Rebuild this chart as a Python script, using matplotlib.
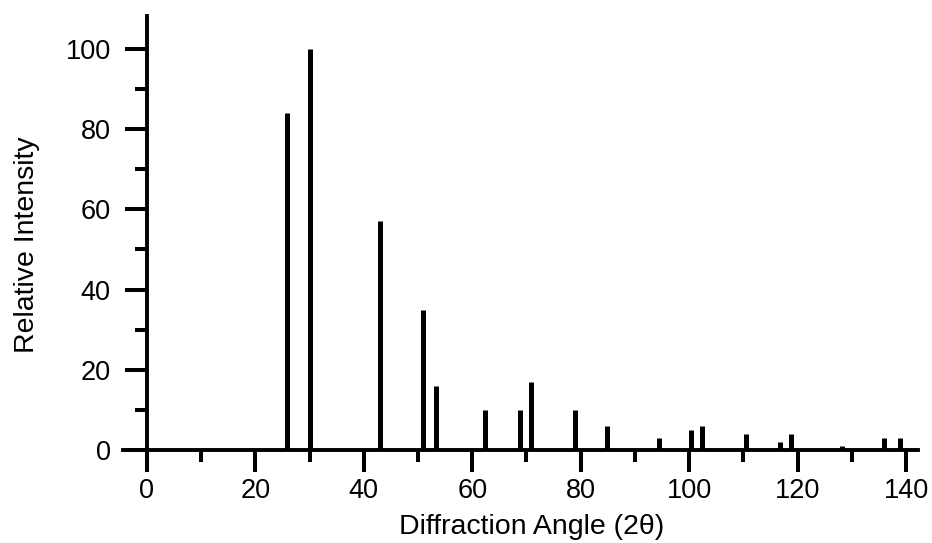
import matplotlib
matplotlib.use("Agg")
import matplotlib.pyplot as plt
from matplotlib.ticker import MultipleLocator

# peak positions (2 theta) and relative intensities
angles = [25.8, 30.0, 43.0, 50.9, 53.3, 62.4, 68.8, 70.9, 78.9, 84.8,
          94.5, 100.3, 102.3, 110.4, 116.7, 118.8, 128.2, 135.9, 138.8]
intensities = [84, 100, 57, 35, 16, 10, 10, 17, 10, 6,
               3, 5, 6, 4, 2, 4, 1, 3, 3]

plt.rcParams["font.family"] = ["Liberation Sans", "DejaVu Sans"]

fig = plt.figure(figsize=(9.32, 5.43), dpi=100)
ax = fig.add_axes([0.132, 0.1418, 0.853, 0.8287])

ax.vlines(angles, 0, intensities, colors="black", linewidth=3.6, capstyle="butt")

ax.set_xlim(-4.4, 142.2)
ax.set_ylim(-4.0, 108.2)

ax.spines["left"].set_position(("data", 0))
ax.spines["bottom"].set_position(("data", 0))
for side in ["top", "right"]:
    ax.spines[side].set_visible(False)
for side in ["left", "bottom"]:
    ax.spines[side].set_linewidth(2.8)

ax.xaxis.set_major_locator(MultipleLocator(20))
ax.xaxis.set_minor_locator(MultipleLocator(10))
ax.yaxis.set_major_locator(MultipleLocator(20))
ax.yaxis.set_minor_locator(MultipleLocator(10))

ax.tick_params(which="major", direction="out", length=16, width=2.9, labelsize=19.5)
ax.tick_params(which="minor", direction="out", length=8.5, width=2.9)
ax.tick_params(axis="x", which="major", pad=4)
ax.tick_params(axis="y", which="major", pad=10)

fig.text(0.029, 0.549, "Relative Intensity", rotation=90, ha="center", va="center", fontsize=20.5)
fig.text(0.570, 0.029, "Diffraction Angle (2θ)", ha="center", va="center", fontsize=20.5)

fig.savefig("out.png", dpi=100)
